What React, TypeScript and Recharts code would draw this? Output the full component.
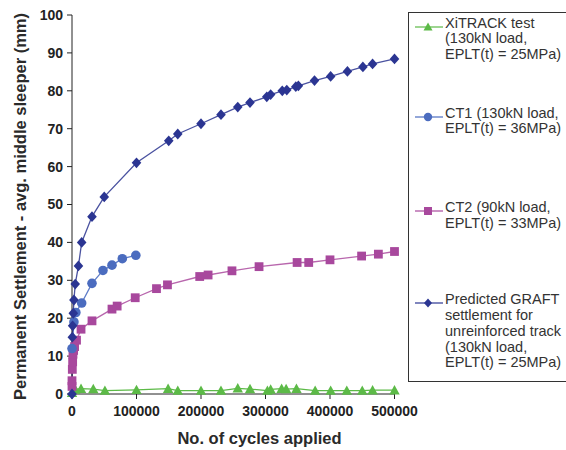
import React from 'react';
import { LineChart, Line, XAxis, YAxis, Label } from 'recharts';

// ---- Data ----
const xitrackCycles = [0, 5000, 14000, 33000, 51000, 100000, 149000, 164000, 200000, 231000, 257000, 276000, 303000, 308000, 325000, 332000, 348000, 377000, 401000, 426000, 450000, 466000, 500000];
const xitrackSettlement = [0.3, 1.2, 1.4, 1.3, 0.9, 1.1, 1.4, 0.9, 0.9, 0.9, 1.5, 1.3, 0.9, 1.2, 1.4, 1.3, 1.4, 0.9, 0.9, 0.9, 0.9, 1.0, 1.0];

const ct1Cycles = [0, 3000, 6000, 15000, 31000, 48000, 62000, 78000, 99000];
const ct1Settlement = [12, 19, 21.5, 24, 29.2, 32.6, 34, 35.7, 36.6];

const ct2Cycles = [0, 0, 500, 1000, 1500, 2500, 4000, 7000, 14000, 31000, 62000, 70000, 98000, 131000, 148000, 198000, 211000, 248000, 290000, 349000, 367000, 400000, 449000, 475000, 500000];
const ct2Settlement = [2, 3.5, 6.5, 8.5, 10.5, 11.5, 12.5, 14.2, 17.1, 19.3, 22.4, 23.2, 25.4, 27.8, 28.8, 31, 31.4, 32.5, 33.6, 34.7, 34.7, 35.4, 36.4, 36.9, 37.6];

const graftCycles = [0, 500, 1000, 2000, 3000, 5000, 10000, 15000, 31000, 50000, 100000, 150000, 164000, 200000, 231000, 257000, 276000, 302000, 308000, 326000, 333000, 347000, 351000, 376000, 401000, 427000, 451000, 466000, 500000];
const graftSettlement = [0, 15, 18, 21.3, 24.8, 29, 33.8, 40, 46.8, 52, 61, 66.8, 68.6, 71.3, 73.7, 75.7, 76.9, 78.4, 79, 80, 80.2, 81.1, 81.3, 82.7, 83.8, 85.1, 86.3, 87.1, 88.4];

const xTicks = [0, 100000, 200000, 300000, 400000, 500000];
const yTicks = [0, 10, 20, 30, 40, 50, 60, 70, 80, 90, 100];

const legendLabels = [
  ['XiTRACK test', '(130kN load,', 'EPLT(t) = 25MPa)'],
  ['CT1 (130kN load,', 'EPLT(t) = 36MPa)'],
  ['CT2 (90kN load,', 'EPLT(t) = 33MPa)'],
  ['Predicted GRAFT', 'settlement for', 'unreinforced track', '(130kN load,', 'EPLT(t) = 25MPa)'],
];

const toPoints = (xs: number[], ys: number[]) => xs.map((x, i) => ({ x, y: ys[i] }));

const GREEN = '#5cba47';
const CT1 = '#4b6cbf';
const CT2 = '#a8489d';
const NAVY = '#2b3592';

const FONT = "Arial, 'Liberation Sans', sans-serif";

const Triangle = (p: any) => {
  const { cx, cy, index } = p;
  if (cx == null || cy == null) return <g key={index} />;
  return <polygon key={index} points={`${cx},${cy - 5.2} ${cx - 5.2},${cy + 4.2} ${cx + 5.2},${cy + 4.2}`} fill={GREEN} />;
};
const Circle = (p: any) => {
  const { cx, cy, index } = p;
  if (cx == null || cy == null) return <g key={index} />;
  return <circle key={index} cx={cx} cy={cy} r={4.8} fill={CT1} />;
};
const Square = (p: any) => {
  const { cx, cy, index } = p;
  if (cx == null || cy == null) return <g key={index} />;
  return <rect key={index} x={cx - 4.4} y={cy - 4.4} width={8.8} height={8.8} fill={CT2} />;
};
const Diamond = (p: any) => {
  const { cx, cy, index } = p;
  if (cx == null || cy == null) return <g key={index} />;
  return <polygon key={index} points={`${cx},${cy - 5.4} ${cx + 4.8},${cy} ${cx},${cy + 5.4} ${cx - 4.8},${cy}`} fill={NAVY} />;
};

const legendIcon = (kind: number) => {
  const colors = [GREEN, CT1, CT2, NAVY];
  const c = colors[kind];
  let marker: React.ReactNode = null;
  if (kind === 0) marker = <polygon points="13,2.5 8.5,10.5 17.5,10.5" fill={c} />;
  if (kind === 1) marker = <circle cx={13} cy={7} r={4.2} fill={c} />;
  if (kind === 2) marker = <rect x={9} y={3} width={8} height={8} fill={c} />;
  if (kind === 3) marker = <polygon points="13,2.5 17,7 13,11.5 9,7" fill={c} />;
  return (
    <svg width={28} height={14} style={{ position: 'absolute', left: 0, top: 0 }}>
      <line x1={0} y1={7} x2={28} y2={7} stroke={c} strokeWidth={1.2} />
      {marker}
    </svg>
  );
};

// top of each entry's first text line, inside the legend box
const legendTops = [2.6, 92.6, 187, 279.3];

export default function App() {
  return (
    <div style={{ position: 'absolute', left: 0, top: 0, width: 566, height: 450, background: '#fff', fontFamily: FONT, overflow: 'hidden' }}>
      <LineChart width={566} height={450} margin={{ top: 15, right: 171.5, bottom: 26, left: 20 }}>
        <XAxis
          type="number"
          dataKey="x"
          domain={[0, 500000]}
          ticks={xTicks}
          interval={0}
          height={30}
          tickSize={5}
          tickMargin={7}
          stroke="#222"
          tick={{ fill: '#222', fontSize: 14, fontWeight: 'bold', fontFamily: FONT }}
          allowDuplicatedCategory={false}
        >
          <Label
            content={() => (
              <text x={259.5} y={437.7} dominantBaseline="central" textAnchor="middle" fill="#2a2a2a" fontSize={16.5} fontWeight="bold" fontFamily={FONT}>
                No. of cycles applied
              </text>
            )}
          />
        </XAxis>
        <YAxis
          type="number"
          dataKey="y"
          domain={[0, 100]}
          ticks={yTicks}
          interval={0}
          width={52}
          tickSize={5}
          tickMargin={4}
          stroke="#222"
          tick={{ fill: '#222', fontSize: 14, fontWeight: 'bold', fontFamily: FONT }}
        >
          <Label
            content={() => (
              <text
                x={20}
                y={206.5}
                transform="rotate(-90 20 206.5)"
                textAnchor="middle"
                dominantBaseline="central"
                fill="#2a2a2a"
                fontSize={16.5}
                fontWeight="bold"
                fontFamily={FONT}
              >
                Permanent Settlement - avg. middle sleeper (mm)
              </text>
            )}
          />
        </YAxis>
        <Line
          data={toPoints(xitrackCycles, xitrackSettlement)}
          dataKey="y"
          stroke={GREEN}
          strokeWidth={1.3}
          dot={Triangle}
          activeDot={false}
          isAnimationActive={false}
        />
        <Line
          data={toPoints(ct2Cycles, ct2Settlement)}
          dataKey="y"
          stroke="#b866ad"
          strokeWidth={1.3}
          dot={Square}
          activeDot={false}
          isAnimationActive={false}
        />
        <Line
          data={toPoints(ct1Cycles, ct1Settlement)}
          dataKey="y"
          stroke="#5e7cc8"
          strokeWidth={1.3}
          dot={Circle}
          activeDot={false}
          isAnimationActive={false}
        />
        <Line
          data={toPoints(graftCycles, graftSettlement)}
          dataKey="y"
          stroke="#4a52a0"
          strokeWidth={1.3}
          dot={Diamond}
          activeDot={false}
          isAnimationActive={false}
        />
      </LineChart>
      <div
        style={{
          position: 'absolute',
          left: 408,
          top: 12,
          width: 162,
          height: 370,
          border: '1px solid #333',
          boxSizing: 'border-box',
        }}
      >
        {legendLabels.map((lines, i) => (
          <div key={i} style={{ position: 'absolute', left: 6, top: legendTops[i], width: 154 }}>
            <div style={{ position: 'absolute', left: 0, top: 4 }}>{legendIcon(i)}</div>
            <div style={{ marginLeft: 30, fontSize: 14.5, lineHeight: '15.8px', color: '#333', fontFamily: FONT, whiteSpace: 'nowrap' }}>
              {lines.map((t, j) => (
                <div key={j}>{t}</div>
              ))}
            </div>
          </div>
        ))}
      </div>
    </div>
  );
}
